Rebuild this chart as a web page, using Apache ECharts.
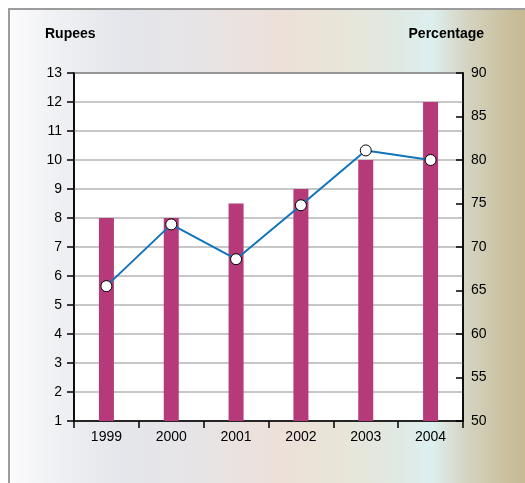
<!DOCTYPE html>
<html>
<head>
<meta charset="utf-8">
<script src="https://cdn.jsdelivr.net/npm/echarts@6/dist/echarts.min.js"></script>
<style>
  html, body { margin: 0; padding: 0; background: #fff; }
  #chart { width: 525px; height: 483px; }
</style>
</head>
<body>
<div id="chart"></div>
<script>
// Yearly values: price in rupees (bars) and percentage (line)
const years = ['1999', '2000', '2001', '2002', '2003', '2004'];
const rupees = [8, 8, 8.5, 9, 10, 12];
const percentage = [65.5, 72.6, 68.6, 74.8, 81.1, 80];

const leftTitle = 'Rupees';
const rightTitle = 'Percentage';

const FONT = 'Liberation Sans, Arial, sans-serif';

const chart = echarts.init(document.getElementById('chart'), null, { renderer: 'canvas' });

// panel background: soft horizontal colour wash inside a grey frame
const panelLeft = 9, panelWidth = 520;
const stop = x => (x - panelLeft) / panelWidth;
const wash = new echarts.graphic.LinearGradient(0, 0, 1, 0, [
  { offset: 0, color: '#fbfbfc' },
  { offset: stop(60), color: '#eff0f3' },
  { offset: stop(120), color: '#e4e6eb' },
  { offset: stop(200), color: '#e7e4e6' },
  { offset: stop(280), color: '#ede0d8' },
  { offset: stop(340), color: '#e8e5d8' },
  { offset: stop(395), color: '#e0e9e3' },
  { offset: stop(432), color: '#dcefee' },
  { offset: stop(465), color: '#d5d4c2' },
  { offset: stop(500), color: '#ccc3a4' },
  { offset: 1, color: '#c5b68f' }
]);

chart.setOption({
  animation: false,
  graphic: [
    {
      type: 'rect', z: -10, silent: true,
      shape: { x: panelLeft, y: 9, width: panelWidth, height: 480 },
      style: { fill: wash, stroke: '#9c9c9c', lineWidth: 2 }
    },
    {
      type: 'text', left: 45, top: 27,
      style: { text: leftTitle, font: 'bold 14px ' + FONT, fill: '#000' }
    },
    {
      type: 'text', right: 41, top: 27,
      style: { text: rightTitle, font: 'bold 14px ' + FONT, fill: '#000' }
    }
  ],
  grid: {
    left: 74, top: 73, width: 389, height: 348,
    show: true, backgroundColor: '#ffffff',
    borderColor: '#000', borderWidth: 1.5
  },
  xAxis: {
    type: 'category',
    data: years,
    boundaryGap: true,
    axisLine: { lineStyle: { color: '#000', width: 1.5 } },
    axisTick: { show: true, alignWithLabel: false, length: 7, lineStyle: { color: '#000', width: 1.5 } },
    axisLabel: { color: '#000', fontSize: 14, fontFamily: FONT, margin: 9 }
  },
  yAxis: [
    {
      type: 'value', min: 1, max: 13, interval: 1,
      position: 'left',
      axisLine: { show: true, lineStyle: { color: '#000', width: 1.5 } },
      axisTick: { show: true, length: 7, lineStyle: { color: '#000', width: 1.5 } },
      axisLabel: { color: '#000', fontSize: 14, fontFamily: FONT, margin: 12 },
      splitLine: { show: true, lineStyle: { color: '#b4b4b4', width: 1.5 } }
    },
    {
      type: 'value', min: 50, max: 90, interval: 5,
      position: 'right',
      axisLine: { show: true, lineStyle: { color: '#000', width: 1.5 } },
      axisTick: { show: true, inside: true, length: 7, lineStyle: { color: '#000', width: 1.5 } },
      axisLabel: { color: '#000', fontSize: 14, fontFamily: FONT, margin: 8 },
      splitLine: { show: false }
    }
  ],
  series: [
    {
      type: 'bar',
      yAxisIndex: 0,
      data: rupees,
      barWidth: 15,
      itemStyle: { color: '#b6397a' },
      z: 2
    },
    {
      type: 'line',
      yAxisIndex: 1,
      data: percentage,
      symbol: 'circle',
      symbolSize: 11,
      lineStyle: { color: '#1174bb', width: 2 },
      itemStyle: { color: '#ffffff', borderColor: '#000', borderWidth: 1 },
      z: 3
    }
  ]
});
</script>
</body>
</html>
